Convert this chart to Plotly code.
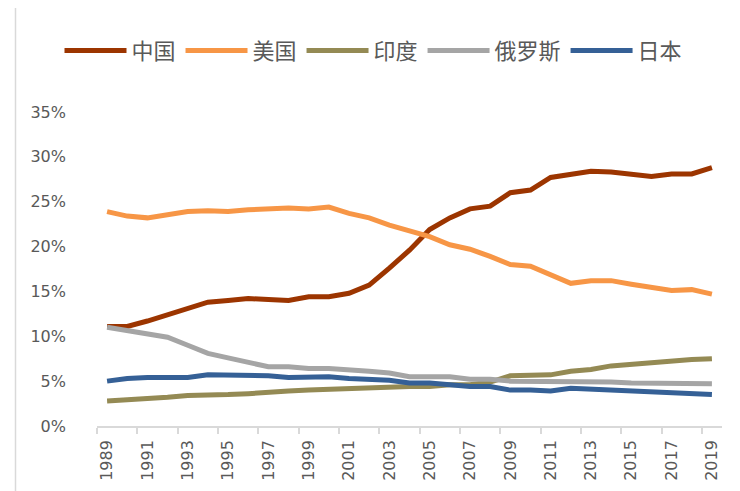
import plotly.graph_objects as go

years = list(range(1989, 2020))
china = [11.1, 11.1, 11.7, 12.4, 13.2, 13.8, 14.0, 14.2, 14.1, 14.0, 14.4, 14.4, 14.8, 15.7, 17.6, 19.6,
         21.9, 23.2, 24.2, 24.5, 26.0, 26.3, 27.7, 28.1, 28.4, 28.3, 28.1, 27.8, 28.1, 28.1, 28.8]
usa = [23.9, 23.4, 23.2, 23.5, 23.9, 24.0, 23.9, 24.1, 24.2, 24.3, 24.2, 24.4, 23.7, 23.2, 22.4, 21.7,
       21.1, 20.2, 19.7, 18.9, 18.0, 17.8, 16.8, 15.9, 16.2, 16.2, 15.8, 15.4, 15.1, 15.2, 14.7]
india = [2.8, 2.9, 3.1, 3.2, 3.4, 3.4, 3.5, 3.6, 3.8, 3.9, 4.0, 4.1, 4.2, 4.3, 4.4, 4.4,
         4.4, 4.6, 4.6, 4.9, 5.6, 5.6, 5.7, 6.1, 6.3, 6.7, 6.9, 7.1, 7.3, 7.4, 7.5]
russia = [11.0, 10.6, 10.3, 9.9, 9.0, 8.1, 7.6, 7.1, 6.6, 6.6, 6.4, 6.4, 6.3, 6.1, 5.9, 5.5,
          5.5, 5.5, 5.2, 5.2, 5.0, 5.0, 5.0, 5.0, 4.9, 4.9, 4.8, 4.8, 4.7, 4.8, 4.7]
japan = [5.0, 5.3, 5.4, 5.4, 5.4, 5.7, 5.7, 5.6, 5.6, 5.4, 5.5, 5.5, 5.3, 5.2, 5.1, 4.8,
         4.8, 4.6, 4.4, 4.4, 4.0, 4.0, 3.9, 4.2, 4.1, 4.0, 3.8, 3.8, 3.7, 3.6, 3.5]

series_names = ["中国", "美国", "印度", "俄罗斯", "日本"]
series_values = [china, usa, india, russia, japan]
colors = ["#9C3500", "#F79646", "#948A54", "#A5A5A5", "#356096"]

y_ticks = [0, 5, 10, 15, 20, 25, 30, 35]
y_labels = [f"{v}%" for v in y_ticks]
x_ticks = list(range(1989, 2020, 2))
x_labels = [str(v) for v in x_ticks]

fig = go.Figure()
for name, vals, col in zip(series_names, series_values, colors):
    fig.add_trace(go.Scatter(x=years, y=vals, name=name, mode="lines",
                             line=dict(color=col, width=5)))

fig.update_layout(
    width=740, height=491,
    margin=dict(l=89, r=26, t=104, b=73, autoexpand=False),
    plot_bgcolor="white", paper_bgcolor="white",
    font=dict(family="DejaVu Sans", color="#595959", size=16),
    legend=dict(orientation="h", x=-0.06, xanchor="left", y=1.195, yanchor="middle",
                font=dict(family="Noto Sans CJK SC", size=22, color="#595959"),
                itemwidth=62, traceorder="normal", tracegroupgap=0),
    xaxis=dict(range=[1988.5, 2019.5], tickmode="array", tickvals=x_ticks, ticktext=x_labels,
               tickangle=-90, ticks="", showgrid=False, zeroline=False,
               showline=True, linecolor="#D9D9D9", linewidth=1.5,
               ticklabelstandoff=6,
               minor=dict(tickmode="array", tickvals=[v - 0.5 for v in x_ticks],
                          ticks="outside", ticklen=6, tickcolor="#D9D9D9", tickwidth=1.5,
                          showgrid=False),
               tickfont=dict(family="DejaVu Sans", size=16, color="#595959")),
    yaxis=dict(range=[0, 35], tickmode="array", tickvals=y_ticks, ticktext=y_labels,
               showgrid=False, zeroline=False, showline=False, ticks="",
               ticklabelstandoff=30,
               tickfont=dict(family="DejaVu Sans", size=16, color="#595959")),
    showlegend=True,
)

# chart-area border at the left edge
fig.add_shape(type="line", xref="paper", yref="paper",
              x0=(7.5 - 89) / 625, x1=(7.5 - 89) / 625, y0=-73 / 314, y1=1 + 104 / 314,
              line=dict(color="#D9D9D9", width=1.5))

fig.write_html("out.html")
